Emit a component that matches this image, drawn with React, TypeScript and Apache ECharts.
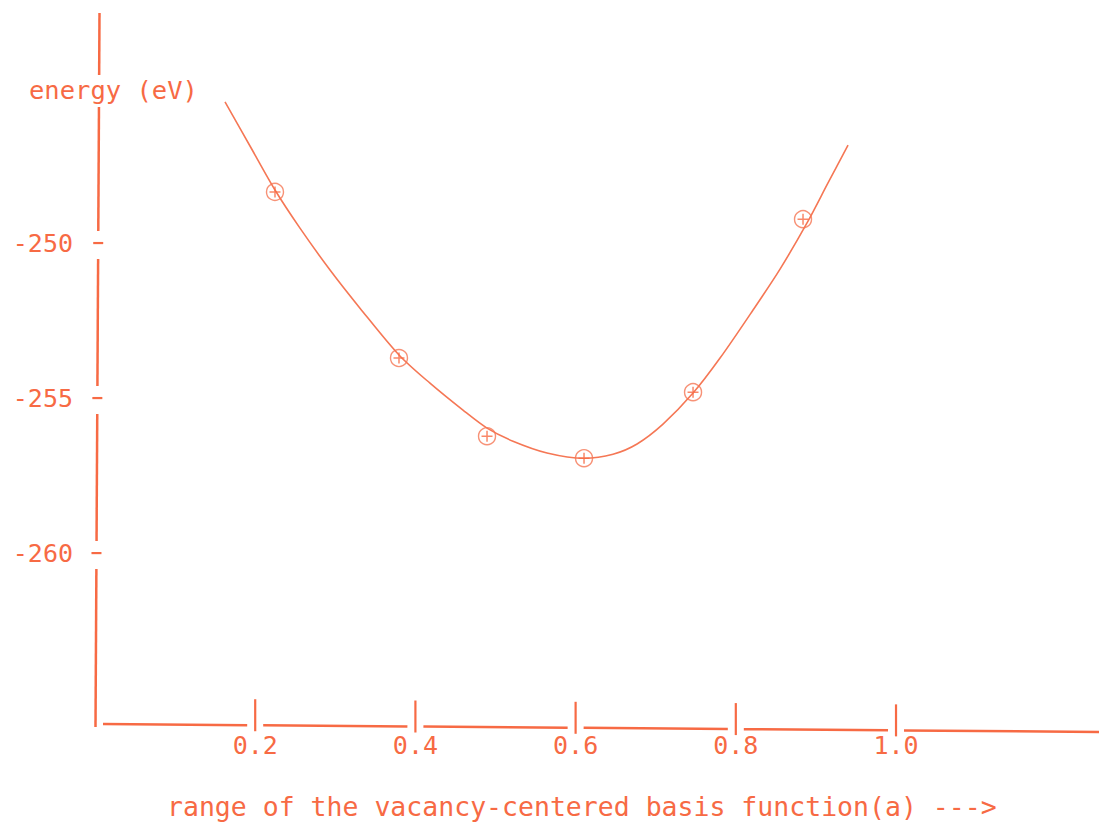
import React, { useEffect, useRef } from "react";
import * as echarts from "echarts";

// ---- data ----
const xTickValues = [0.2, 0.4, 0.6, 0.8, 1.0];
const xTickLabels = ["0.2", "0.4", "0.6", "0.8", "1.0"];
const yTickValues = [-250, -255, -260];
const yTickLabels = ["-250", "-255", "-260"];

// measured energies (circled points)
const pointX = [0.2247, 0.3795, 0.4894, 0.6105, 0.7466, 0.8839];
const pointY = [-248.35, -253.71, -256.23, -256.94, -254.81, -249.23];

// hand-drawn fitted curve
const curveX = [0.1623, 0.1935, 0.2247, 0.2559, 0.2934, 0.3308, 0.3795, 0.4182, 0.4594, 0.4894, 0.5218, 0.5643, 0.6105, 0.6467, 0.6767, 0.7091, 0.7466, 0.7803, 0.8215, 0.8552, 0.8889, 0.9151, 0.9401];
const curveY = [-245.45, -246.87, -248.29, -249.52, -250.87, -252.1, -253.61, -254.52, -255.39, -255.97, -256.39, -256.77, -256.94, -256.81, -256.48, -255.84, -254.84, -253.71, -252.16, -250.84, -249.35, -248.06, -246.84];

const yTitle = "energy (eV)";
const xTitle = "range of the vacancy-centered basis function(a) --->";

const INK = "#f76a44";
const CURVE = "#f57755";
const FONT = "'DejaVu Sans Mono', 'Liberation Mono', monospace";

export default function App() {
  const ref = useRef<HTMLDivElement>(null);

  useEffect(() => {
    document.body.style.margin = "0";
    const el = ref.current!;
    const chart = echarts.init(el, null, { renderer: "svg" });

    const option: any = {
      animation: false,
      backgroundColor: "#ffffff",
      grid: { left: 95, top: 13, width: 1004, height: 714, containLabel: false },
      xAxis: {
        type: "value",
        min: 0,
        max: 1.2534,
        axisLine: { show: false },
        axisTick: { show: false },
        splitLine: { show: false },
        axisLabel: {
          customValues: xTickValues,
          formatter: (v: number) => {
            const i = xTickValues.findIndex((t) => Math.abs(t - v) < 1e-6);
            return i >= 0 ? xTickLabels[i] : "";
          },
          color: INK,
          fontFamily: FONT,
          fontSize: 25,
          margin: 6,
        },
      },
      yAxis: {
        type: "value",
        min: -265.61,
        max: -242.58,
        axisLine: { show: false },
        axisTick: { show: false },
        splitLine: { show: false },
        axisLabel: {
          customValues: yTickValues,
          formatter: (v: number) => {
            const i = yTickValues.findIndex((t) => Math.abs(t - v) < 1e-6);
            return i >= 0 ? yTickLabels[i] : "";
          },
          color: INK,
          fontFamily: FONT,
          fontSize: 25,
          margin: 22,
        },
      },
      series: [
        {
          type: "line",
          data: curveX.map((x, i) => [x, curveY[i]]),
          smooth: 0.3,
          showSymbol: false,
          lineStyle: { color: CURVE, width: 1.6 },
          z: 2,
        },
        {
          type: "scatter",
          data: pointX.map((x, i) => [x, pointY[i]]),
          symbol: "circle",
          symbolSize: 17,
          itemStyle: { color: "rgba(255,255,255,0)", borderColor: CURVE, borderWidth: 1.4 },
          z: 3,
        },
        {
          type: "scatter",
          data: pointX.map((x, i) => [x, pointY[i]]),
          symbol: "path://M5,0 L5,10 M0,5 L10,5",
          symbolSize: 11,
          itemStyle: { color: "none", borderColor: INK, borderWidth: 1.5 },
          z: 4,
        },
      ],
    };
    chart.setOption(option);

    const px = (x: number, y: number) => chart.convertToPixel({ gridIndex: 0 }, [x, y]) as number[];
    const g: any[] = [];
    const line = (x1: number, y1: number, x2: number, y2: number, w = 2.5) =>
      g.push({ type: "line", shape: { x1, y1, x2, y2 }, style: { stroke: INK, lineWidth: w }, z: 10 });

    // y axis (slightly slanted, broken around labels/ticks)
    const yTop = 13;
    const yBot = px(0, -265.61)[1];
    const axisX = (y: number) => 99.5 - ((y - yTop) / (yBot - yTop)) * 4;
    const gaps: number[][] = [[75, 107]];
    yTickValues.forEach((v) => {
      const ty = px(0, v)[1];
      gaps.push([ty - 12, ty + 16]);
      line(axisX(ty) - 5, ty, axisX(ty) + 5, ty, 2.2);
    });
    gaps.sort((a, b) => a[0] - b[0]);
    let start = yTop;
    gaps.forEach(([a, b]) => {
      line(axisX(start), start, axisX(a), a);
      start = b;
    });
    line(axisX(start), start, axisX(yBot), yBot);

    // x axis (slightly slanted, broken at ticks)
    const xl0 = 103;
    const xl1 = 1099;
    const yl = (x: number) => 724 + ((x - xl0) / (xl1 - xl0)) * 8;
    let sx = xl0;
    xTickValues.forEach((v) => {
      const tx = px(v, -265.61)[0];
      line(sx, yl(sx), tx - 8, yl(tx - 8));
      line(tx, yl(tx) - 26, tx, yl(tx) + 6, 2.2);
      sx = tx + 8;
    });
    line(sx, yl(sx), xl1, yl(xl1));

    // titles
    g.push({
      type: "text",
      x: 29,
      y: 90,
      z: 11,
      style: { text: yTitle, fill: INK, font: `25.5px ${FONT}`, verticalAlign: "middle", align: "left" },
    });
    g.push({
      type: "text",
      x: 167,
      y: 806,
      z: 11,
      style: { text: xTitle, fill: INK, font: `26.5px ${FONT}`, verticalAlign: "middle", align: "left" },
    });

    chart.setOption({ graphic: g });

    return () => chart.dispose();
  }, []);

  return <div ref={ref} style={{ position: "fixed", left: 0, top: 0, width: 1099, height: 827 }} />;
}
